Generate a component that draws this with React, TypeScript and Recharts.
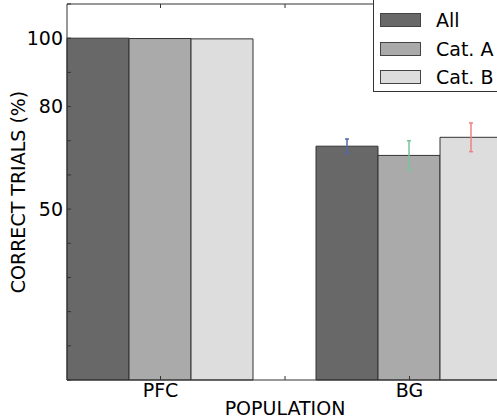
import { BarChart, Bar, XAxis, YAxis, ErrorBar, Legend } from 'recharts'

const populations = ['PFC', 'BG']
const allValues = [100, 68.4]
const catAValues = [99.9, 65.7]
const catBValues = [99.8, 71.0]
const allErrors = [null, 2.1]
const catAErrors = [null, 4.3]
const catBErrors = [null, 4.2]
const yTicks = [0, 10, 20, 30, 40, 50, 60, 70, 80, 90, 100, 110]
const yTickLabels: Record<number, string> = { 100: '100', 80: '80', 50: '50' }

const data = populations.map((name, i) => ({
  name,
  all: allValues[i],
  allErr: allErrors[i],
  catA: catAValues[i],
  catAErr: catAErrors[i],
  catB: catBValues[i],
  catBErr: catBErrors[i],
}))

const FONT = '"DejaVu Sans", sans-serif'
const EDGE = '#333'

function YTick(props: any) {
  const { x, y, payload } = props
  const label = yTickLabels[payload.value]
  return (
    <g>
      <line x1={x} x2={x + 4} y1={y} y2={y} stroke={EDGE} />
      {label && (
        <text x={x - 4} y={y} dy="0.36em" textAnchor="end" fontSize={19} fontFamily={FONT} fill="#000">
          {label}
        </text>
      )}
    </g>
  )
}

function XTick(props: any) {
  const { x, y, payload, index } = props
  const edge = payload.offset ? x + payload.offset : null
  return (
    <g>
      <line x1={x} x2={x} y1={y} y2={y - 4} stroke={EDGE} />
      {index === 0 && edge && <line x1={edge} x2={edge} y1={y} y2={y - 4} stroke={EDGE} />}
      <text x={x} y={y + 17} textAnchor="middle" fontSize={19} fontFamily={FONT} fill="#000">
        {payload.value}
      </text>
    </g>
  )
}

function TopTick(props: any) {
  const { x, y, payload, index } = props
  const edge = payload.offset ? x + payload.offset : null
  return (
    <g>
      <line x1={x} x2={x} y1={y} y2={y + 4} stroke={EDGE} />
      {index === 0 && edge && <line x1={edge} x2={edge} y1={y} y2={y + 4} stroke={EDGE} />}
    </g>
  )
}

function LegendBox({ payload }: any) {
  return (
    <div
      style={{
        border: `1px solid ${EDGE}`,
        background: '#fff',
        paddingTop: 16.75,
        height: 104,
        boxSizing: 'border-box',
        fontFamily: FONT,
      }}
    >
      {(payload || []).map((entry: any) => (
        <div key={entry.value} style={{ display: 'flex', alignItems: 'center', height: 28.5 }}>
          <span
            style={{
              display: 'inline-block',
              width: 41,
              height: 14,
              background: entry.color,
              border: '1px solid #444',
              boxSizing: 'border-box',
              marginLeft: 6,
              marginRight: 15,
            }}
          />
          <span style={{ fontSize: 19, color: '#000', whiteSpace: 'nowrap' }}>{entry.value}</span>
        </div>
      ))}
    </div>
  )
}

export default function App() {
  return (
    <div style={{ position: 'fixed', top: 0, left: 0, width: 497, height: 418, overflow: 'hidden', background: '#fff' }}>
      <BarChart
        width={510}
        height={418}
        data={data}
        margin={{ top: 3, right: 7, left: 0, bottom: 0 }}
        barCategoryGap={31}
        barGap={0}
      >
        <XAxis
          dataKey="name"
          height={38}
          padding={{ left: -31, right: -31 }}
          tickSize={0}
          tickMargin={0}
          tickLine={false}
          axisLine={{ stroke: EDGE }}
          tick={<XTick />}
          interval={0}
          label={{ value: 'POPULATION', position: 'insideBottom', offset: 3, fontSize: 19, fontFamily: FONT, fill: '#000' }}
        />
        <XAxis
          xAxisId="top"
          dataKey="name"
          orientation="top"
          height={1}
          padding={{ left: -31, right: -31 }}
          tickSize={0}
          tickMargin={0}
          tickLine={false}
          axisLine={{ stroke: EDGE }}
          tick={<TopTick />}
          interval={0}
        />
        <YAxis
          width={67}
          domain={[0, 110]}
          ticks={yTicks}
          interval={0}
          tickSize={0}
          tickMargin={0}
          tickLine={false}
          axisLine={{ stroke: EDGE }}
          tick={<YTick />}
          label={({ viewBox }: any) => (
            <text
              x={25}
              y={viewBox.y + viewBox.height / 2}
              transform={`rotate(-90, 25, ${viewBox.y + viewBox.height / 2})`}
              textAnchor="middle"
              fontSize={19}
              fontFamily={FONT}
              fill="#000"
            >
              CORRECT TRIALS (%)
            </text>
          )}
        />
        <Legend
          layout="vertical"
          align="center"
          verticalAlign="middle"
          content={<LegendBox />}
          wrapperStyle={{ top: -12, left: 373, width: 150, height: 104 }}
        />
        <Bar dataKey="all" name="All" fill="#686868" stroke={EDGE} strokeWidth={1} isAnimationActive={false}>
          <ErrorBar dataKey="allErr" width={2} stroke="#5566aa" strokeWidth={1.5} direction="y" />
        </Bar>
        <Bar dataKey="catA" name="Cat. A" fill="#aaaaaa" stroke={EDGE} strokeWidth={1} isAnimationActive={false}>
          <ErrorBar dataKey="catAErr" width={2} stroke="#77c49a" strokeWidth={1.5} direction="y" />
        </Bar>
        <Bar dataKey="catB" name="Cat. B" fill="#dddddd" stroke={EDGE} strokeWidth={1} isAnimationActive={false}>
          <ErrorBar dataKey="catBErr" width={2} stroke="#ee8080" strokeWidth={1.5} direction="y" />
        </Bar>
      </BarChart>
    </div>
  )
}
